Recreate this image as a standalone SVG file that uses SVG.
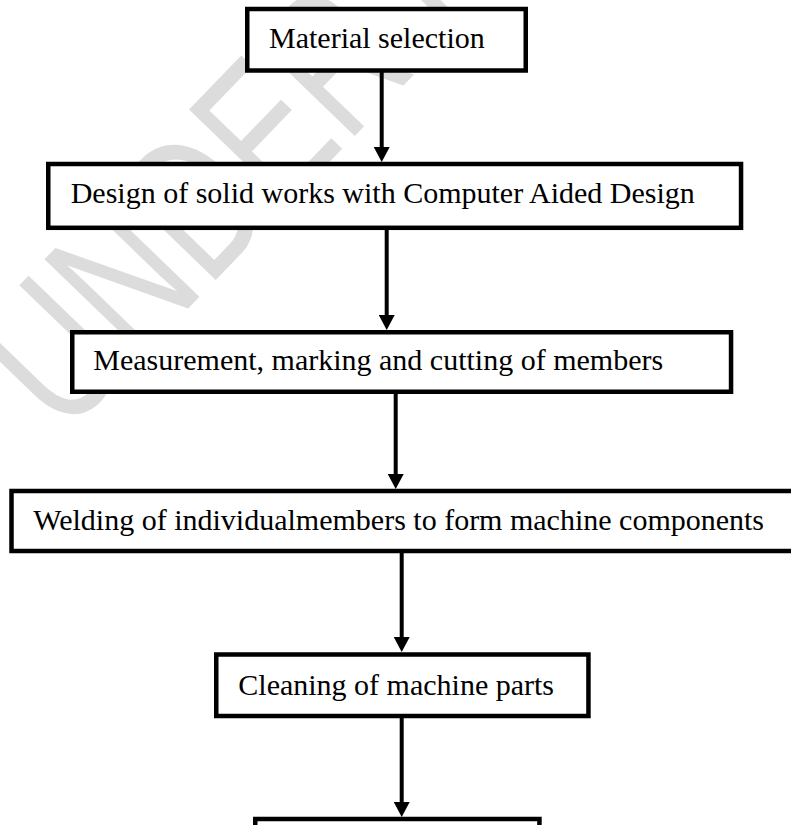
<svg xmlns="http://www.w3.org/2000/svg" width="791" height="825" viewBox="0 0 791 825">
<style>
.box{fill:#ffffff;stroke:#000000;stroke-width:4.5}
.lbl{font-family:"Liberation Serif","Times New Roman",serif;font-size:30px;fill:#000000}
.conn{stroke:#000000;stroke-width:4;fill:none}
.wm{font-family:"Liberation Sans",Arial,sans-serif;font-size:200px;fill:#dcdcdc}
</style>
<defs>
<marker id="arr" viewBox="0 0 15 16" refX="7" refY="8" markerWidth="15" markerHeight="16" markerUnits="userSpaceOnUse" orient="auto">
<path d="M0,0 L15,8 L0,16 z" fill="#000000"/>
</marker>
</defs>
<rect width="791" height="825" fill="#ffffff"/>
<g id="watermark" transform="translate(63,438) rotate(-46) scale(0.72,1)">
<text class="wm" x="0" y="0">UNDER REVIEW</text>
</g>
<g id="connectors">
<line class="conn" x1="381.7" y1="72" x2="381.7" y2="154" marker-end="url(#arr)"/>
<line class="conn" x1="386.7" y1="230" x2="386.7" y2="322" marker-end="url(#arr)"/>
<line class="conn" x1="395.7" y1="394" x2="395.7" y2="481" marker-end="url(#arr)"/>
<line class="conn" x1="401.7" y1="553" x2="401.7" y2="644" marker-end="url(#arr)"/>
<line class="conn" x1="401.7" y1="718" x2="401.7" y2="809" marker-end="url(#arr)"/>
</g>
<g id="n1">
<rect class="box" x="247.25" y="9" width="278.5" height="61.5"/>
<text class="lbl" x="269" y="48.3">Material selection</text>
</g>
<g id="n2">
<rect class="box" x="48.25" y="164" width="692.8" height="63.8"/>
<text class="lbl" x="70.7" y="203.3">Design of solid works with Computer Aided Design</text>
</g>
<g id="n3">
<rect class="box" x="72.25" y="332.25" width="658.8" height="59.5"/>
<text class="lbl" x="93.3" y="370">Measurement, marking and cutting of members</text>
</g>
<g id="n4">
<rect class="box" x="11.5" y="491" width="800" height="60"/>
<text class="lbl" x="33.3" y="530">Welding of individualmembers to form machine components</text>
</g>
<g id="n5">
<rect class="box" x="216.25" y="654.5" width="372.2" height="61.5"/>
<text class="lbl" x="238.3" y="695">Cleaning of machine parts</text>
</g>
<g id="n6">
<rect class="box" x="255.25" y="819" width="284.2" height="60"/>
</g>
</svg>
